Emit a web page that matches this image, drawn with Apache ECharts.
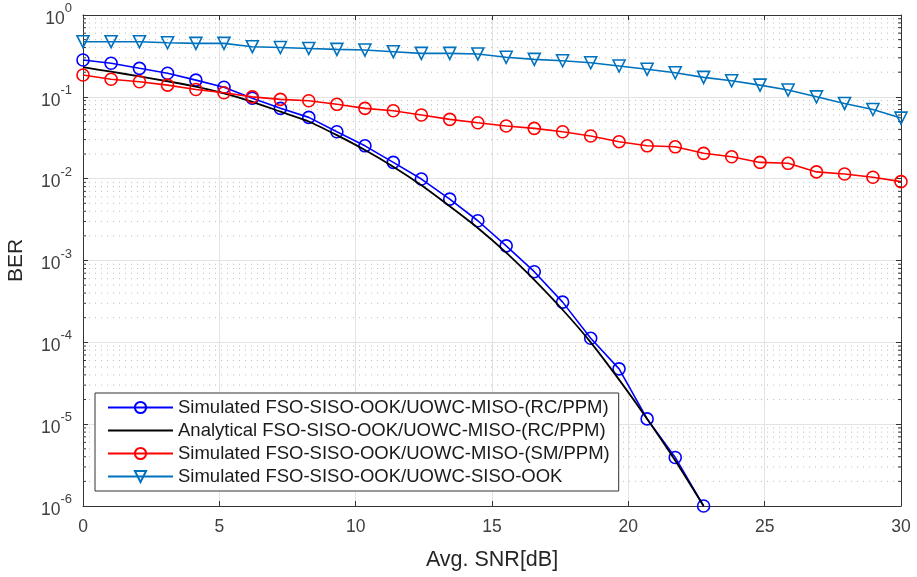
<!DOCTYPE html>
<html>
<head>
<meta charset="utf-8">
<script src="https://cdn.jsdelivr.net/npm/echarts@6/dist/echarts.min.js"></script>
<style>
  html, body { margin: 0; padding: 0; background: #fff; }
  #chart { width: 917px; height: 577px; }
</style>
</head>
<body>
<div id="chart"></div>
<script>
// SNR points (dB), 30 points from 0 to 30
var snr = [0, 1.03, 2.07, 3.10, 4.14, 5.17, 6.21, 7.24, 8.28, 9.31, 10.34, 11.38, 12.41, 13.45, 14.48,
  15.52, 16.55, 17.59, 18.62, 19.66, 20.69, 21.72, 22.76, 23.79, 24.83, 25.86, 26.90, 27.93, 28.97, 30];

// BER values
var berSimRC = [0.282, 0.257, 0.223, 0.194, 0.160, 0.131, 0.096, 0.0723, 0.0561, 0.0374, 0.0252, 0.0158,
  0.00989, 0.00563, 0.00306, 0.00151, 0.00073, 0.00031, 0.000112, 4.74e-5, 1.16e-5, 3.92e-6, 1.0e-6];
var berAnaRC = [0.23, 0.203, 0.178, 0.155, 0.133, 0.110, 0.087, 0.066, 0.050, 0.034, 0.0224, 0.014,
  0.0083, 0.0046, 0.0025, 0.00125, 0.00058, 0.00025, 0.0001, 3.5e-5, 1.16e-5, 3.6e-6, 1.0e-6];
var berSimSM = [0.185, 0.164, 0.153, 0.139, 0.123, 0.112, 0.100, 0.093, 0.0896, 0.081, 0.0723, 0.0676,
  0.060, 0.053, 0.0482, 0.044, 0.0412, 0.0374, 0.0332, 0.0283, 0.0252, 0.0245, 0.0204, 0.0185, 0.0158,
  0.0154, 0.0121, 0.0114, 0.0104, 0.0092];
var berSisoOok = [0.472, 0.472, 0.472, 0.458, 0.45, 0.45, 0.41, 0.40, 0.39, 0.38, 0.373, 0.356, 0.34,
  0.34, 0.334, 0.304, 0.287, 0.276, 0.261, 0.238, 0.217, 0.197, 0.173, 0.157, 0.139, 0.121, 0.100,
  0.083, 0.070, 0.055];

var seriesNames = [
  'Simulated FSO-SISO-OOK/UOWC-MISO-(RC/PPM)',
  'Analytical FSO-SISO-OOK/UOWC-MISO-(RC/PPM)',
  'Simulated FSO-SISO-OOK/UOWC-MISO-(SM/PPM)',
  'Simulated FSO-SISO-OOK/UOWC-SISO-OOK'
];

var xRange = [0, 30];
var yRange = [1e-6, 1];
// log minor grid positions (2..9 per decade)
var minorY = [];
[1e-6, 1e-5, 1e-4, 1e-3, 1e-2, 1e-1].forEach(function (d) {
  [2, 3, 4, 5, 6, 7, 8, 9].forEach(function (m) { minorY.push([0, m * d]); });
});

function pairs(ys) {
  return ys.map(function (y, i) { return [snr[i], y]; });
}

var axisColor = '#333';
var labelColor = '#404040';

var chart = echarts.init(document.getElementById('chart'));
chart.setOption({
  animation: false,
  backgroundColor: '#fff',
  textStyle: { fontFamily: 'Liberation Sans, Arial, sans-serif' },
  grid: { left: 83, right: 16, top: 15, bottom: 71, containLabel: false, outerBoundsMode: 'none' },
  legend: {
    data: [
      { name: seriesNames[0] },
      { name: seriesNames[1], itemStyle: { opacity: 0 } },
      { name: seriesNames[2] },
      { name: seriesNames[3] }
    ],
    orient: 'vertical',
    left: 95,
    top: 393,
    padding: [3, 9, 3, 12],
    itemGap: 0,
    itemWidth: 65,
    itemHeight: 14,
    backgroundColor: '#fff',
    borderColor: '#333',
    borderWidth: 1,
    borderRadius: 0,
    textStyle: { fontSize: 18.5, lineHeight: 23, color: '#1a1a1a' }
  },
  xAxis: [{
    type: 'value', min: xRange[0], max: xRange[1], interval: 5,
    name: 'Avg. SNR[dB]', nameLocation: 'middle', nameGap: 43,
    nameTextStyle: { fontSize: 21.5, color: '#262626' },
    axisLine: { lineStyle: { color: axisColor, width: 1 } },
    axisTick: { inside: true, length: 5, lineStyle: { color: axisColor } },
    axisLabel: { fontSize: 17.5, color: labelColor, margin: 12 },
    splitLine: { show: true, lineStyle: { color: '#e3e3e3', width: 1 } }
  }, {
    type: 'value', position: 'top', min: xRange[0], max: xRange[1], interval: 5,
    axisLine: { show: true, onZero: false, lineStyle: { color: axisColor, width: 1 } },
    axisTick: { inside: true, length: 5, lineStyle: { color: axisColor } },
    axisLabel: { show: false },
    splitLine: { show: false }
  }],
  yAxis: [{
    type: 'log', logBase: 10, min: yRange[0], max: yRange[1],
    name: 'BER', nameLocation: 'middle', nameGap: 56,
    nameTextStyle: { fontSize: 21, color: '#262626' },
    axisLine: { show: true, onZero: false, lineStyle: { color: axisColor, width: 1 } },
    axisTick: { inside: true, length: 5, lineStyle: { color: axisColor } },
    axisLabel: {
      margin: 11,
      formatter: function (v) {
        var e = Math.round(Math.log10(v));
        return '{b|10}{s|' + e + '}';
      },
      rich: {
        b: { fontSize: 17.5, color: labelColor, lineHeight: 26, verticalAlign: 'bottom' },
        s: { fontSize: 13, color: labelColor, lineHeight: 14, verticalAlign: 'top' }
      }
    },
    splitLine: { show: true, lineStyle: { color: '#e3e3e3', width: 1 } }
  }, {
    type: 'log', logBase: 10, min: yRange[0], max: yRange[1], position: 'right',
    axisLine: { show: true, onZero: false, lineStyle: { color: axisColor, width: 1 } },
    axisTick: { inside: true, length: 5, lineStyle: { color: axisColor } },
    axisLabel: { show: false },
    splitLine: { show: false }
  }],
  series: [{
    type: 'custom',
    name: 'minor',
    silent: true,
    z: 1,
    xAxisIndex: 0, yAxisIndex: 0,
    data: minorY,
    encode: { x: 0, y: 1 },
    renderItem: function (params, api) {
      var v = api.value(1);
      var p0 = api.coord([xRange[0], v]);
      var p1 = api.coord([xRange[1], v]);
      return {
        type: 'group',
        children: [{
          type: 'line',
          shape: { x1: p0[0], y1: p0[1], x2: p1[0], y2: p1[1] },
          style: { stroke: '#bdbdbd', lineWidth: 1, lineDash: [1, 5] }
        }, {
          type: 'line',
          shape: { x1: p0[0], y1: p0[1], x2: p0[0] + 3, y2: p0[1] },
          style: { stroke: axisColor, lineWidth: 1 }
        }, {
          type: 'line',
          shape: { x1: p1[0], y1: p1[1], x2: p1[0] - 3, y2: p1[1] },
          style: { stroke: axisColor, lineWidth: 1 }
        }]
      };
    }
  }, {
    type: 'line', name: seriesNames[0],
    data: pairs(berSimRC),
    symbol: 'circle', symbolSize: 12,
    lineStyle: { color: '#0000ff', width: 1.6 },
    itemStyle: { color: 'rgba(0,0,0,0)', borderColor: '#0000ff', borderWidth: 1.6 },
    z: 3
  }, {
    type: 'line', name: seriesNames[1],
    data: pairs(berAnaRC),
    symbol: 'none', smooth: 0.2,
    lineStyle: { color: '#000', width: 1.8 },
    itemStyle: { color: '#000' },
    z: 4
  }, {
    type: 'line', name: seriesNames[2],
    data: pairs(berSimSM),
    symbol: 'circle', symbolSize: 12,
    lineStyle: { color: '#ff0000', width: 1.6 },
    itemStyle: { color: 'rgba(0,0,0,0)', borderColor: '#ff0000', borderWidth: 1.6 },
    z: 5
  }, {
    type: 'line', name: seriesNames[3],
    data: pairs(berSisoOok),
    symbol: 'triangle', symbolSize: 12, symbolRotate: 180,
    lineStyle: { color: '#0072bd', width: 1.6 },
    itemStyle: { color: 'rgba(0,0,0,0)', borderColor: '#0072bd', borderWidth: 1.6 },
    z: 6
  }]
});
</script>
</body>
</html>
